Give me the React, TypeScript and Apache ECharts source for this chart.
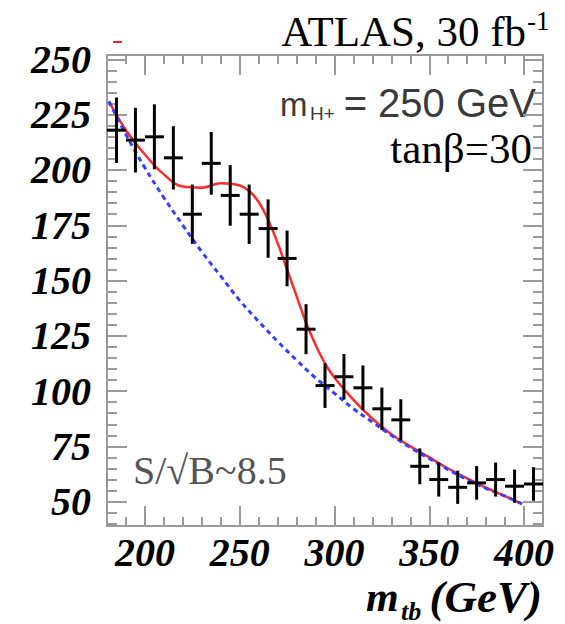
import React, { useEffect, useRef } from "react";
import * as echarts from "echarts";

// ---- data ----
const binCenters = [185, 195, 205, 215, 225, 235, 245, 255, 265, 275, 285, 295, 305, 315, 325, 335, 345, 355, 365, 375, 385, 395, 405];
const counts = [218, 213.5, 215, 205.5, 180, 203, 188.5, 180, 173.5, 160, 128, 102.5, 106.5, 101.5, 92, 87, 66, 60, 56.5, 58.5, 60, 57, 58];
const errors = [14.8, 14.6, 14.7, 14.3, 13.4, 14.2, 13.7, 13.4, 13.2, 12.6, 11.3, 10.1, 10.3, 10.1, 9.6, 9.3, 8.1, 7.7, 7.5, 7.6, 7.7, 7.5, 7.6];
const binWidth = 10;

const bkgX = [181, 190, 200, 210, 220, 230, 240, 250, 260, 270, 280, 290, 300, 310, 320, 330, 340, 350, 360, 370, 380, 390, 399];
const bkgY = [231, 216, 201, 187.5, 175, 163, 152, 141, 131.5, 122.5, 114, 106, 99, 92, 86, 80, 74.5, 69.5, 64.5, 60, 56, 52.5, 49];

const fitX = [181, 190, 200, 210, 220, 230, 240, 250, 255, 260, 265, 270, 275, 280, 285, 290, 295, 300, 310, 320, 330, 340, 350, 360, 370, 380, 390, 399];
const fitY = [231, 218, 207, 198, 192.5, 192, 194, 193, 190.5, 185.5, 177.5, 167, 155, 143, 131, 121, 112.5, 106, 96, 87.5, 80.5, 75, 70, 65, 60.5, 56.3, 52.5, 49];

const xMajorTicks = [200, 250, 300, 350, 400];
const xMinorTicks = [190, 210, 220, 230, 240, 260, 270, 280, 290, 310, 320, 330, 340, 360, 370, 380, 390];
const yMajorTicks = [50, 75, 100, 125, 150, 175, 200, 225, 250];
const yMinorTicks = [40, 45, 55, 60, 65, 70, 80, 85, 90, 95, 105, 110, 115, 120, 130, 135, 140, 145, 155, 160, 165, 170, 180, 185, 190, 195, 205, 210, 215, 220, 230, 235, 240, 245];

const X_MIN = 180, X_MAX = 410, Y_MIN = 39, Y_MAX = 252;

const SERIF = "'Liberation Serif', 'Times New Roman', serif";
const SANS = "'Liberation Sans', Arial, sans-serif";
const TICK = "#9a9a9a";

function xAxisDef(pos: "top" | "bottom", ticks: number[], len: number, labels: boolean) {
  return {
    type: "value", min: X_MIN, max: X_MAX, position: pos,
    axisLine: { show: false, onZero: false },
    splitLine: { show: false },
    axisTick: { show: true, inside: true, length: len, customValues: ticks, lineStyle: { color: TICK, width: 2 } },
    axisLabel: labels
      ? { show: true, customValues: ticks, margin: 6, color: "#000", fontFamily: SERIF, fontStyle: "italic", fontWeight: "bold", fontSize: 40 }
      : { show: false },
  };
}
function yAxisDef(pos: "left" | "right", ticks: number[], len: number, labels: boolean) {
  return {
    type: "value", min: Y_MIN, max: Y_MAX, position: pos,
    axisLine: { show: false, onZero: false },
    splitLine: { show: false },
    axisTick: { show: true, inside: true, length: len, customValues: ticks, lineStyle: { color: TICK, width: 2 } },
    axisLabel: labels
      ? { show: true, customValues: ticks, margin: 16, color: "#000", fontFamily: SERIF, fontStyle: "italic", fontWeight: "bold", fontSize: 40 }
      : { show: false },
  };
}

export default function App() {
  const ref = useRef<HTMLDivElement>(null);
  useEffect(() => {
    if (!ref.current) return;
    const chart = echarts.init(ref.current, null, { renderer: "svg" });
    const option: any = {
      animation: false,
      backgroundColor: "#fff",
      grid: { left: 107, right: 22, top: 55, bottom: 98, show: true, borderColor: TICK, borderWidth: 2, backgroundColor: "transparent" },
      xAxis: [
        xAxisDef("bottom", xMajorTicks, 20, true),
        xAxisDef("bottom", xMinorTicks, 9, false),
        xAxisDef("top", xMajorTicks, 20, false),
        xAxisDef("top", xMinorTicks, 9, false),
      ],
      yAxis: [
        yAxisDef("left", yMajorTicks, 20, true),
        yAxisDef("left", yMinorTicks, 10, false),
        yAxisDef("right", yMajorTicks, 20, false),
        yAxisDef("right", yMinorTicks, 10, false),
      ],
      series: [
        {
          type: "line", name: "fit", xAxisIndex: 0, yAxisIndex: 0, z: 2,
          data: fitX.map((x, i) => [x, fitY[i]]),
          smooth: 0.4, showSymbol: false,
          lineStyle: { color: "#ff2a2a", width: 2.5 },
        },
        {
          type: "line", name: "bkg", xAxisIndex: 0, yAxisIndex: 0, z: 3,
          data: bkgX.map((x, i) => [x, bkgY[i]]),
          smooth: 0.4, showSymbol: false,
          lineStyle: { color: "#3340ff", width: 3, type: [5, 4] },
        },
        {
          type: "custom", name: "data", xAxisIndex: 0, yAxisIndex: 0, z: 4,
          data: binCenters.map((x, i) => [x, counts[i], errors[i]]),
          renderItem: (params: any, api: any) => {
            const x = api.value(0), y = api.value(1), e = api.value(2);
            const c = api.coord([x, y]);
            const l = api.coord([x - binWidth / 2, y]);
            const r = api.coord([x + binWidth / 2, y]);
            const t = api.coord([x, y + e]);
            const b = api.coord([x, y - e]);
            const st = { stroke: "#000", lineWidth: 3 };
            return {
              type: "group",
              children: [
                { type: "line", shape: { x1: l[0], y1: c[1], x2: r[0], y2: c[1] }, style: st },
                { type: "line", shape: { x1: c[0], y1: t[1], x2: c[0], y2: b[1] }, style: st },
              ],
            };
          },
        },
      ],
      graphic: [
        { type: "rect", left: 113, top: 41, shape: { width: 9, height: 2 }, style: { fill: "#ff2020" } },
        { type: "text", x: 526, y: 31, style: { text: "ATLAS, 30 fb", fontFamily: SERIF, fontSize: 43, fill: "#000", textAlign: "right", textVerticalAlign: "middle" } },
        { type: "text", x: 527, y: 21, style: { text: "-1", fontFamily: SERIF, fontSize: 27, fill: "#000", textAlign: "left", textVerticalAlign: "middle" } },
        { type: "text", x: 280, y: 104, style: { text: "m", fontFamily: SANS, fontSize: 33, fill: "#3a3a3a", textAlign: "left", textVerticalAlign: "middle" } },
        { type: "text", x: 310, y: 113, style: { text: "H+", fontFamily: SANS, fontSize: 19, fill: "#3a3a3a", textAlign: "left", textVerticalAlign: "middle" } },
        { type: "text", x: 536, y: 103, style: { text: "= 250 GeV", fontFamily: SANS, fontSize: 40, fill: "#3a3a3a", textAlign: "right", textVerticalAlign: "middle" } },
        { type: "text", x: 532, y: 148, style: { text: "tanβ=30", fontFamily: SERIF, fontSize: 43, fill: "#000", textAlign: "right", textVerticalAlign: "middle" } },
        { type: "text", x: 133, y: 470, style: { text: "S/√B~8.5", fontFamily: SERIF, fontSize: 40, fill: "#555", textAlign: "left", textVerticalAlign: "middle" } },
        { type: "text", x: 366, y: 597, style: { text: "m", fontFamily: SERIF, fontSize: 42, fontStyle: "italic", fontWeight: "bold", fill: "#000", textAlign: "left", textVerticalAlign: "middle" } },
        { type: "text", x: 401, y: 611, style: { text: "tb", fontFamily: SERIF, fontSize: 26, fontStyle: "italic", fontWeight: "bold", fill: "#000", textAlign: "left", textVerticalAlign: "middle" } },
        { type: "text", x: 542, y: 597, style: { text: "(GeV)", fontFamily: SERIF, fontSize: 45, fontStyle: "italic", fontWeight: "bold", fill: "#000", textAlign: "right", textVerticalAlign: "middle" } },
      ],
    };
    chart.setOption(option);
    return () => chart.dispose();
  }, []);
  return <div ref={ref} style={{ position: "fixed", left: 0, top: 0, width: 565, height: 624, background: "#fff" }} />;
}
